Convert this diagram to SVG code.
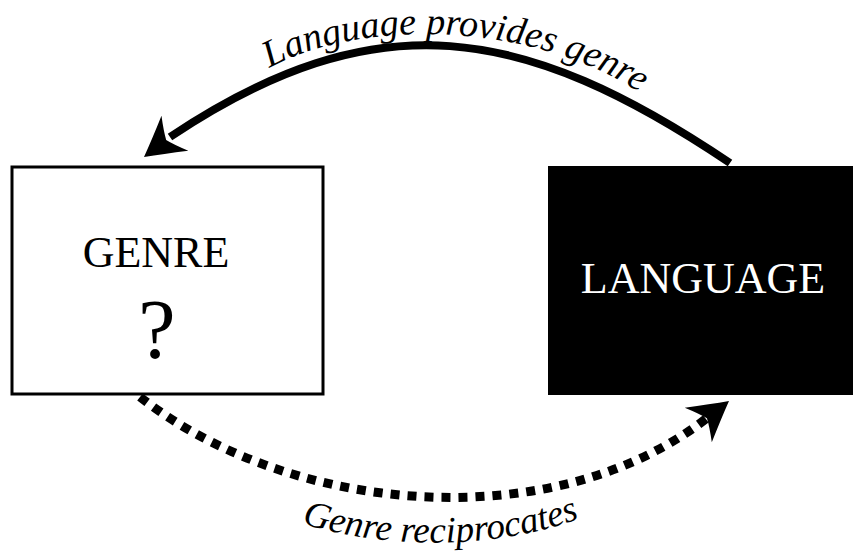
<svg xmlns="http://www.w3.org/2000/svg" width="853" height="560" viewBox="0 0 853 560">
  <style>
    .label { font-family: "Liberation Serif", "Times New Roman", serif; font-size: 44px; text-anchor: middle; }
    .curve-label { font-family: "Liberation Serif", "Times New Roman", serif; font-style: italic; }
    .shaft { fill: none; stroke: #000; stroke-width: 8; }
    .dotted { fill: none; stroke: #000; stroke-width: 9; stroke-dasharray: 9 8; }
  </style>
  <defs>
    <!-- concave arrowhead, tip at origin pointing along +x -->
    <path id="head" d="M0,0 Q-17,-9 -39,-22 Q-31,-8 -28,0 Q-31,8 -39,22 Q-17,9 0,0 Z" fill="#000"/>
    <path id="topText" d="M 236 92 C 318 12, 556 10, 672 118"/>
    <path id="bottomText" d="M 255 503 C 350 557, 530 557, 625 496"/>
  </defs>

  <rect width="853" height="560" fill="#fff"/>

  <g id="genre">
    <rect x="12" y="167" width="311" height="227" fill="#fff" stroke="#000" stroke-width="3"/>
    <text class="label" x="156" y="267">GENRE</text>
    <text class="label" x="157" y="358" style="font-size:84px">?</text>
  </g>

  <g id="language">
    <rect x="548" y="166" width="305" height="229" fill="#000"/>
    <text class="label" x="703" y="293" fill="#fff">LANGUAGE</text>
  </g>

  <g id="connectors">
    <path class="shaft" d="M 730 163 C 523 24, 377 -1, 170 137"/>
    <use href="#head" transform="translate(144,157) rotate(142.4)"/>
    <path class="dotted" d="M 140 397 C 292 516, 555 537, 707 418"/>
    <use href="#head" transform="translate(729,401) rotate(-38)"/>
    <text class="curve-label" style="font-size:38px"><textPath href="#topText" startOffset="50%" text-anchor="middle">Language provides genre</textPath></text>
    <text class="curve-label" style="font-size:37px"><textPath href="#bottomText" startOffset="50%" text-anchor="middle">Genre reciprocates</textPath></text>
  </g>
</svg>
